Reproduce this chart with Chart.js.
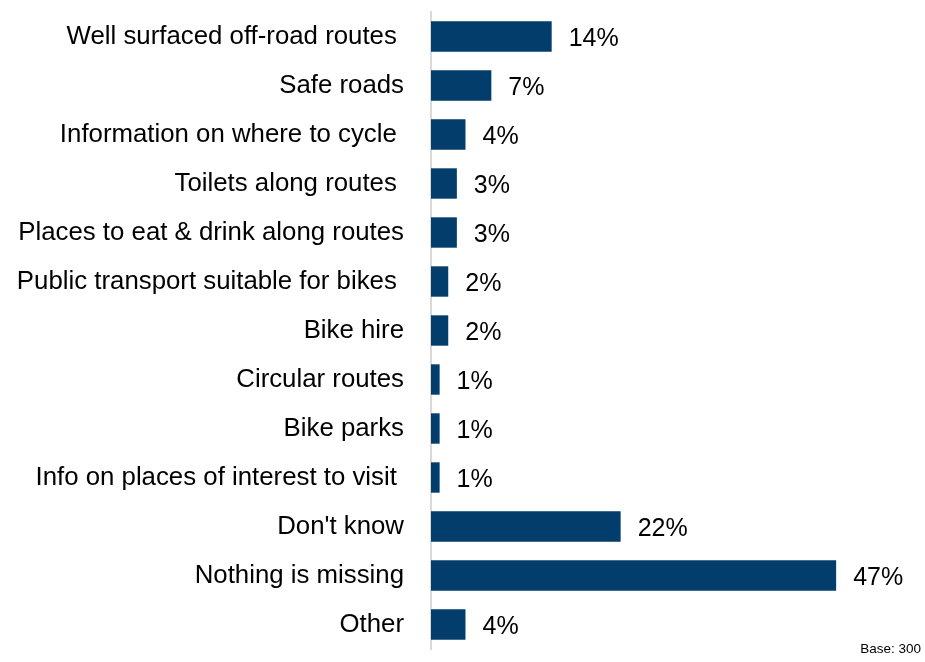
<!DOCTYPE html>
<html>
<head>
<meta charset="utf-8">
<script src="https://cdn.jsdelivr.net/npm/chart.js@4.4.1/dist/chart.umd.min.js"></script>
<style>
  html, body { margin: 0; padding: 0; background: #fff; }
  #wrap { width: 925px; height: 662px; position: relative; }
</style>
</head>
<body>
<div id="wrap"><canvas id="chart"></canvas></div>
<script>
// trailing spaces kept as in the source labels
const CATEGORIES = [
  'Well surfaced off-road routes ',
  'Safe roads',
  'Information on where to cycle ',
  'Toilets along routes ',
  'Places to eat & drink along routes',
  'Public transport suitable for bikes ',
  'Bike hire',
  'Circular routes',
  'Bike parks',
  'Info on places of interest to visit ',
  "Don't know",
  'Nothing is missing',
  'Other',
];
const VALUES = [14, 7, 4, 3, 3, 2, 2, 1, 1, 1, 22, 47, 4];
const BASE_NOTE = 'Base: 300';

const BAR_COLOR = '#023d6b';
const FONT = 'Arial, "Liberation Sans", sans-serif';

const valueLabels = {
  id: 'valueLabels',
  afterDatasetsDraw(chart) {
    const { ctx } = chart;
    const meta = chart.getDatasetMeta(0);
    ctx.save();
    ctx.font = `25px ${FONT}`;
    ctx.fillStyle = '#000';
    ctx.textBaseline = 'middle';
    ctx.textAlign = 'left';
    meta.data.forEach((bar, i) => {
      ctx.fillText(`${VALUES[i]}%`, bar.x + 17, bar.y + 3);
    });
    ctx.font = `13.5px ${FONT}`;
    ctx.textAlign = 'right';
    ctx.fillText(BASE_NOTE, 921, 649);
    ctx.restore();
  },
};

new Chart(document.getElementById('chart'), {
  type: 'bar',
  data: {
    labels: CATEGORIES,
    datasets: [{
      data: VALUES,
      backgroundColor: BAR_COLOR,
      borderWidth: 0,
      barPercentage: 0.62,
      categoryPercentage: 1,
    }],
  },
  options: {
    indexAxis: 'y',
    responsive: true,
    maintainAspectRatio: false,
    animation: false,
    layout: { padding: { top: 12, bottom: 13, left: 0, right: 63 } },
    plugins: {
      legend: { display: false },
      tooltip: { enabled: false },
    },
    scales: {
      x: {
        min: 0,
        max: 50,
        display: false,
      },
      y: {
        afterFit: (axis) => {
          axis.width = 431;
          axis.paddingTop = 0;
          axis.paddingBottom = 0;
        },
        grid: { display: false, drawTicks: false },
        border: { display: true, color: '#d9d9d9', width: 2 },
        ticks: {
          color: '#000',
          padding: 27,
          font: { family: FONT, size: 25.8 },
        },
      },
    },
  },
  plugins: [valueLabels],
});
</script>
</body>
</html>
